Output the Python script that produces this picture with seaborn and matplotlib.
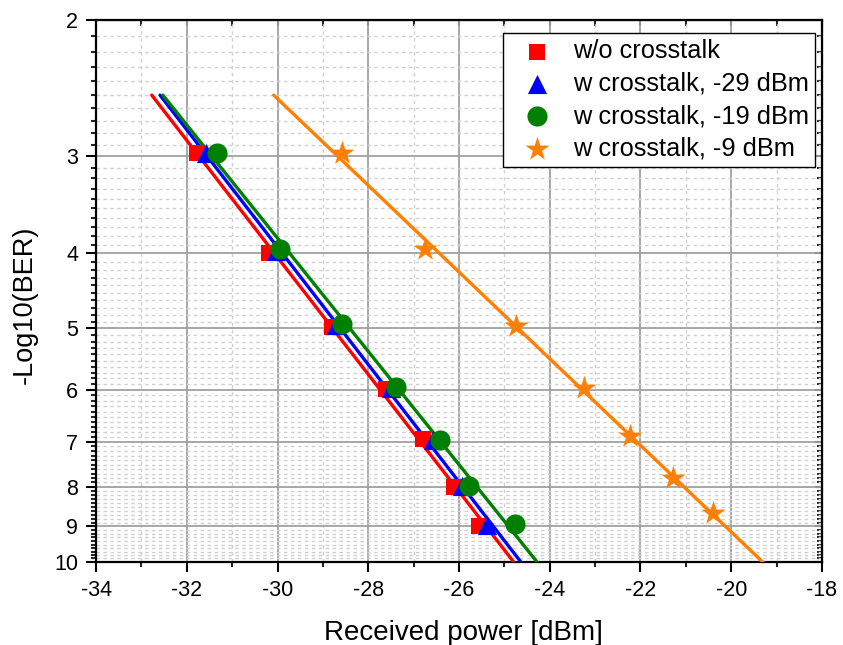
import numpy as np
import pandas as pd
import seaborn as sns
import matplotlib.pyplot as plt
from matplotlib.ticker import FixedLocator, FixedFormatter, NullFormatter

# Measured points (received power in dBm, -log10(BER))
x_no = [-31.77, -30.18, -28.81, -27.60, -26.80, -26.10, -25.55]
y_no = [2.97, 4.00, 4.98, 5.98, 6.94, 8.00, 8.99]

x_29 = [-31.57, -30.03, -28.72, -27.51, -26.58, -25.94, -25.39]
y_29 = [2.97, 3.97, 4.95, 5.96, 6.96, 7.98, 8.97]

x_19 = [-31.33, -29.94, -28.57, -27.38, -26.41, -25.79, -24.77]
y_19 = [2.97, 3.95, 4.93, 5.95, 6.96, 7.98, 8.93]

x_9 = [-28.59, -26.76, -24.75, -23.25, -22.23, -21.28, -20.40]
y_9 = [2.97, 3.95, 4.96, 5.97, 6.88, 7.79, 8.65]

labels = ['w/o crosstalk', 'w crosstalk, -29 dBm', 'w crosstalk, -19 dBm', 'w crosstalk, -9 dBm']
colors = ['#ff0000', '#0000ff', '#008000', '#ff8000']
markers = ['s', '^', 'o', '*']
msizes = [140, 190, 210, 330]

x_ticks = [-34, -32, -30, -28, -26, -24, -22, -20, -18]
y_ticks = [2, 3, 4, 5, 6, 7, 8, 9, 10]

sns.set_style('white')
plt.rcParams['font.family'] = ['Liberation Sans', 'DejaVu Sans']
plt.rcParams['axes.unicode_minus'] = False
plt.rcParams['text.color'] = 'black'
plt.rcParams['axes.labelcolor'] = 'black'

fig = plt.figure(figsize=(8.43, 6.45), dpi=100)
ax = fig.add_axes([0.114, 0.129, 0.861, 0.840])

series = [(x_no, y_no), (x_29, y_29), (x_19, y_19), (x_9, y_9)]
for (xs, ys), lab, c, m, s in zip(series, labels, colors, markers, msizes):
    # linear fit of log10(-log10 BER) against power, drawn from 2.5 down past 10
    k, b = np.polyfit(xs, np.log10(ys), 1)
    yl = np.array([2.5, 10.5])
    xl = (np.log10(yl) - b) / k
    sns.lineplot(x=xl, y=yl, color=c, lw=2.4, ax=ax, sort=False, zorder=3)
    df = pd.DataFrame({'x': xs, 'y': ys})
    sns.scatterplot(data=df, x='x', y='y', color=c, marker=m, s=s, linewidth=0,
                    label=lab, ax=ax, zorder=4)

ax.set_yscale('log')
ax.set_xlim(-34, -18)
ax.set_ylim(10, 2)

ax.xaxis.set_major_locator(FixedLocator(x_ticks))
ax.xaxis.set_minor_locator(FixedLocator(np.arange(-33, -18, 2)))
ax.yaxis.set_major_locator(FixedLocator(y_ticks))
ax.yaxis.set_major_formatter(FixedFormatter([str(v) for v in y_ticks]))
ax.yaxis.set_minor_locator(FixedLocator(np.arange(2.1, 10, 0.1)))
ax.yaxis.set_minor_formatter(NullFormatter())

ax.grid(True, which='major', color='#a0a0a0', lw=1.3, ls='-')
ax.grid(True, which='minor', color='#d0d0d0', lw=1.0, ls=(0, (2.5, 2.5)))
ax.set_axisbelow(True)

ax.tick_params(which='major', direction='out', length=7, width=1.5,
               colors='black', bottom=True, left=True, pad=6)
ax.tick_params(which='minor', direction='out', length=3.5, width=1.5, bottom=True, left=True)
for lab in ax.get_xticklabels() + ax.get_yticklabels():
    lab.set_fontsize(15.5)
for sp in ax.spines.values():
    sp.set_linewidth(1.6)
    sp.set_color('black')

top = ax.secondary_xaxis('top')
top.xaxis.set_major_locator(FixedLocator(x_ticks))
top.xaxis.set_minor_locator(FixedLocator(np.arange(-33, -18, 2)))
top.tick_params(which='both', direction='in', length=4, width=1.5, labeltop=False)
right = ax.secondary_yaxis('right')
right.yaxis.set_major_locator(FixedLocator(y_ticks))
right.yaxis.set_minor_locator(FixedLocator(np.arange(2.1, 10, 0.1)))
right.tick_params(which='major', direction='in', length=5, width=1.5, labelright=False)
right.tick_params(which='minor', direction='in', length=3.5, width=1.5, labelright=False)
right.yaxis.set_minor_formatter(NullFormatter())
right.yaxis.set_major_formatter(NullFormatter())

ax.set_xlabel('Received power [dBm]', fontsize=20)
ax.set_ylabel('-Log10(BER)', fontsize=19.5)
ax.xaxis.set_label_coords(0.506, -0.108)
ax.yaxis.set_label_coords(-0.081, 0.474)

leg = ax.legend(loc='upper right', bbox_to_anchor=(0.991, 0.976), borderaxespad=0,
                fontsize=18.3, frameon=True, fancybox=False, edgecolor='black',
                framealpha=1, labelspacing=0.33, handlelength=2.2, handletextpad=0.3,
                borderpad=0.25)
leg.get_frame().set_linewidth(1.0)

fig.savefig('out.png', dpi=100)
